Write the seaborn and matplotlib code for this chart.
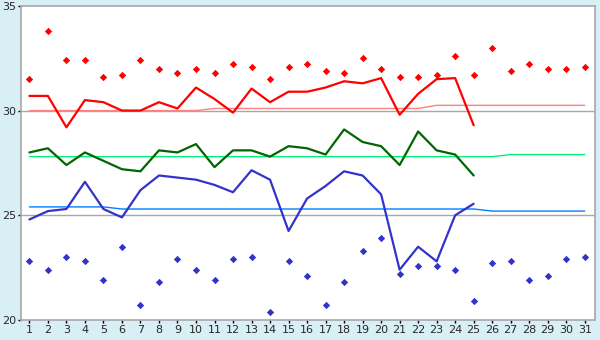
import pandas as pd
import seaborn as sns
import numpy as np
import matplotlib.pyplot as plt

days = list(range(1, 32))
line_days = list(range(1, 26))

rec_high = [31.5, 33.8, 32.4, 32.4, 31.6, 31.7, 32.4, 32.0, 31.8, 32.0,
            31.8, 32.2, 32.1, 31.5, 32.1, 32.2, 31.9, 31.8, 32.5, 32.0,
            31.6, 31.6, 31.7, 32.6, 31.7, 33.0, 31.9, 32.2, 32.0, 32.0, 32.1]
rec_low = [22.8, 22.4, 23.0, 22.8, 21.9, 23.5, 20.7, 21.8, 22.9, 22.4,
           21.9, 22.9, 23.0, 20.4, 22.8, 22.1, 20.7, 21.8, 23.3, 23.9,
           22.2, 22.6, 22.6, 22.4, 20.9, 22.7, 22.8, 21.9, 22.1, 22.9, 23.0]

t_max = [30.7, 30.7, 29.2, 30.5, 30.4, 30.0, 30.0, 30.4, 30.1, 31.1,
         30.55, 29.9, 31.05, 30.4, 30.9, 30.9, 31.1, 31.4, 31.3, 31.55,
         29.8, 30.8, 31.5, 31.55, 29.3]
t_mean = [28.0, 28.2, 27.4, 28.0, 27.6, 27.2, 27.1, 28.1, 28.0, 28.4,
          27.3, 28.1, 28.1, 27.8, 28.3, 28.2, 27.9, 29.1, 28.5, 28.3,
          27.4, 29.0, 28.1, 27.9, 26.9]
t_min = [24.8, 25.2, 25.3, 26.6, 25.3, 24.9, 26.2, 26.9, 26.8, 26.7,
         26.45, 26.1, 27.15, 26.7, 24.25, 25.8, 26.4, 27.1, 26.9, 26.0,
         22.4, 23.5, 22.8, 25.0, 25.55]

norm_max = [30.0] * 10 + [30.1] * 12 + [30.25] * 9
norm_mean = [27.8] * 26 + [27.9] * 5
norm_min = [25.4] * 5 + [25.3] * 20 + [25.2] * 6

df_obs = pd.DataFrame({"day": line_days, "max": t_max, "mean": t_mean, "min": t_min})
df_all = pd.DataFrame({"day": days, "hi": rec_high, "lo": rec_low,
                       "nmax": norm_max, "nmean": norm_mean, "nmin": norm_min})

sns.set_style("white")
plt.rcParams["font.family"] = ["DejaVu Sans"]

fig = plt.figure(figsize=(6, 3.4), dpi=100)
fig.patch.set_facecolor("#d9eff6")
ax = fig.add_axes([0.0345, 0.0588, 0.957, 0.924])
ax.set_facecolor("white")

for yv in [25, 30]:
    ax.axhline(yv, color="#a8a8a8", lw=1, zorder=1)

sns.lineplot(data=df_all, x="day", y="nmax", color="#ff8080", lw=1, ax=ax, zorder=2)
sns.lineplot(data=df_all, x="day", y="nmean", color="#00f07a", lw=1, ax=ax, zorder=2)
sns.lineplot(data=df_all, x="day", y="nmin", color="#0080ff", lw=1, ax=ax, zorder=2)

sns.lineplot(data=df_obs, x="day", y="max", color="#ff0000", lw=1.6, ax=ax, zorder=3)
sns.lineplot(data=df_obs, x="day", y="mean", color="#006600", lw=1.6, ax=ax, zorder=3)
sns.lineplot(data=df_obs, x="day", y="min", color="#3333cc", lw=1.6, ax=ax, zorder=3)

sns.scatterplot(data=df_all, x="day", y="hi", color="#ff0000", marker="D", s=14,
                linewidth=0, ax=ax, zorder=4)
sns.scatterplot(data=df_all, x="day", y="lo", color="#3333cc", marker="D", s=14,
                linewidth=0, ax=ax, zorder=4)

ax.set_xlim(0.53, 31.55)
ax.set_ylim(20, 35)
ax.set_xticks(days)
ax.set_yticks([20, 25, 30, 35])
ax.set_xlabel("")
ax.set_ylabel("")
for s in ax.spines.values():
    s.set_color("#a8a8a8")
    s.set_linewidth(1.2)
ax.tick_params(axis="both", direction="out", length=2.5, width=1, color="black",
               labelsize=8, pad=1, left=True, bottom=True)

plt.savefig("out.png", dpi=100, facecolor=fig.get_facecolor())
